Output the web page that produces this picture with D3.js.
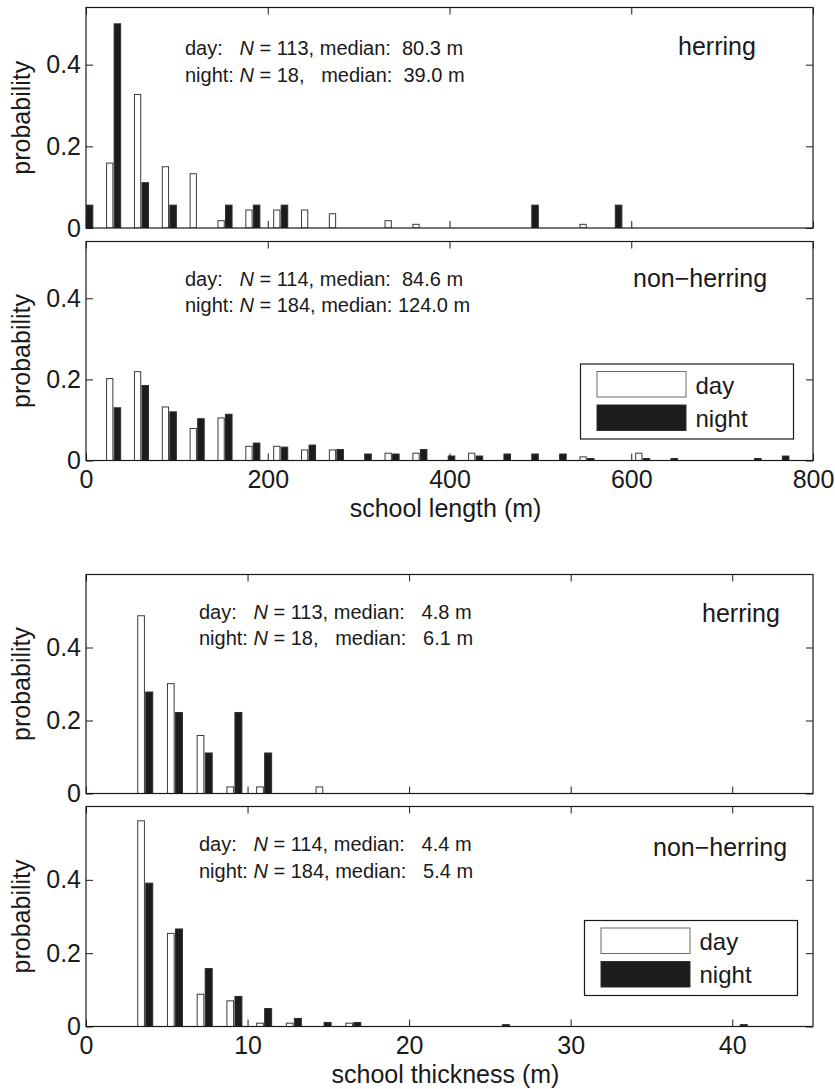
<!DOCTYPE html>
<html>
<head>
<meta charset="utf-8">
<script src="https://cdn.jsdelivr.net/npm/d3@7"></script>
<style>
  body { margin: 0; background: #fff; }
  svg text { font-family: "Liberation Sans", Arial, Helvetica, sans-serif; fill: #1a1a1a; }
  .stats { white-space: pre; }
</style>
</head>
<body>
<svg id="chart" width="835" height="1089"></svg>
<script>
// Bin centres of the histograms
const lengthBins = [0, 30.64, 61.28, 91.92, 122.56, 153.2, 183.84, 214.48, 245.12, 275.76,
  306.4, 337.04, 367.68, 398.32, 428.96, 459.6, 490.24, 520.88, 551.52, 582.16,
  612.8, 643.44, 674.08, 704.72, 735.36, 766.0];
const thicknessBins = [3.68, 5.52, 7.36, 9.2, 11.04, 12.88, 14.72, 16.56, 18.4, 20.24,
  22.08, 23.92, 25.76, 27.6, 29.44, 31.28, 33.12, 34.96, 36.8, 38.64, 40.48, 42.32, 44.16];

// Probabilities per bin, school length
const herringLengthDay = [0, 0.159, 0.327, 0.150, 0.133, 0.018, 0.044, 0.044, 0.044, 0.035,
  0, 0.018, 0.009, 0, 0, 0, 0, 0, 0.009, 0, 0, 0, 0, 0, 0, 0];
const herringLengthNight = [0.056, 0.500, 0.111, 0.056, 0, 0.056, 0.056, 0.056, 0, 0,
  0, 0, 0, 0, 0, 0, 0.056, 0, 0, 0.056, 0, 0, 0, 0, 0, 0];
const otherLengthDay = [0, 0.202, 0.219, 0.132, 0.079, 0.105, 0.035, 0.035, 0.026, 0.026,
  0, 0.018, 0.018, 0, 0.018, 0, 0, 0, 0.009, 0, 0.018, 0, 0, 0, 0, 0];
const otherLengthNight = [0, 0.130, 0.185, 0.120, 0.103, 0.114, 0.043, 0.033, 0.038, 0.027,
  0.016, 0.016, 0.027, 0.011, 0.011, 0.016, 0.016, 0.016, 0.005, 0, 0.005, 0.005, 0, 0, 0.005, 0.011];

// Probabilities per bin, school thickness
const herringThickDay = [0.487, 0.301, 0.159, 0.018, 0.018, 0, 0.018, 0, 0, 0,
  0, 0, 0, 0, 0, 0, 0, 0, 0, 0, 0, 0, 0];
const herringThickNight = [0.278, 0.222, 0.111, 0.222, 0.111, 0, 0, 0, 0, 0,
  0, 0, 0, 0, 0, 0, 0, 0, 0, 0, 0, 0, 0];
const otherThickDay = [0.561, 0.254, 0.088, 0.070, 0.009, 0.009, 0, 0.009, 0, 0,
  0, 0, 0, 0, 0, 0, 0, 0, 0, 0, 0, 0, 0];
const otherThickNight = [0.391, 0.266, 0.158, 0.082, 0.049, 0.022, 0.011, 0.011, 0, 0,
  0, 0, 0.005, 0, 0, 0, 0, 0, 0, 0, 0.005, 0, 0];

// Sample sizes [day, night] and medians [day, night]
const herringCounts = [113, 18];
const otherCounts = [114, 184];
const herringLengthMedian = [80.3, 39.0];
const otherLengthMedian = [84.6, 124.0];
const herringThickMedian = [4.8, 6.1];
const otherThickMedian = [4.4, 5.4];

// Tick values
const lengthTicks = [0, 200, 400, 600, 800];
const thicknessTicks = [0, 10, 20, 30, 40];
const probTicks = [0, 0.2, 0.4];
const seriesNames = ["day", "night"];

const svg = d3.select("#chart");
const left = 86, right = 813;

const panels = [
  { bins: lengthBins, day: herringLengthDay, night: herringLengthNight, xMax: 800, yMax: 0.54,
    xTicks: lengthTicks, top: 7.5, bottom: 228, xLabels: false, name: "herring", nameX: 678, nameY: 55,
    counts: herringCounts, medians: herringLengthMedian, statX: 185, statY: 55 },
  { bins: lengthBins, day: otherLengthDay, night: otherLengthNight, xMax: 800, yMax: 0.54,
    xTicks: lengthTicks, top: 241.5, bottom: 460.5, xLabels: true, xTitle: "school length (m)",
    name: "non\u2212herring", nameX: 633, nameY: 286.5,
    counts: otherCounts, medians: otherLengthMedian, statX: 185, statY: 285.5,
    legend: { x: 580.5, y: 364, w: 213, h: 75 } },
  { bins: thicknessBins, day: herringThickDay, night: herringThickNight, xMax: 45, yMax: 0.6,
    xTicks: thicknessTicks, top: 574.5, bottom: 793.5, xLabels: false, name: "herring", nameX: 702, nameY: 621.5,
    counts: herringCounts, medians: herringThickMedian, statX: 199, statY: 618.5 },
  { bins: thicknessBins, day: otherThickDay, night: otherThickNight, xMax: 45, yMax: 0.6,
    xTicks: thicknessTicks, top: 806.5, bottom: 1026.5, xLabels: true, xTitle: "school thickness (m)",
    name: "non\u2212herring", nameX: 653, nameY: 855.5,
    counts: otherCounts, medians: otherThickMedian, statX: 199, statY: 851,
    legend: { x: 584.5, y: 920.5, w: 213, h: 75 } }
];

const fmtTick = v => v === 0 ? "0" : d3.format(".1f")(v);

panels.forEach((p, i) => {
  const x = d3.scaleLinear().domain([0, p.xMax]).range([left, right]);
  const y = d3.scaleLinear().domain([0, p.yMax]).range([p.bottom, p.top]);
  const g = svg.append("g");

  const clipId = "clip" + i;
  svg.append("clipPath").attr("id", clipId)
    .append("rect").attr("x", left).attr("y", p.top).attr("width", right - left).attr("height", p.bottom - p.top);

  // grouped bars: day left of the bin centre, night right of it
  const step = p.bins[1] - p.bins[0];
  const bars = g.append("g").attr("clip-path", `url(#${clipId})`);
  const rows = p.bins.map((c, k) => ({ c, day: p.day[k], night: p.night[k] }));
  bars.selectAll("rect.day").data(rows.filter(d => d.day > 0)).join("rect")
    .attr("class", "day")
    .attr("x", d => x(d.c - 0.26 * step))
    .attr("width", d => x(d.c - 0.035 * step) - x(d.c - 0.26 * step))
    .attr("y", d => y(d.day))
    .attr("height", d => y(0) - y(d.day))
    .attr("fill", "#fff").attr("stroke", "#3a3a3a").attr("stroke-width", 1);
  bars.selectAll("rect.night").data(rows.filter(d => d.night > 0)).join("rect")
    .attr("class", "night")
    .attr("x", d => x(d.c + 0.01 * step))
    .attr("width", d => x(d.c + 0.245 * step) - x(d.c + 0.01 * step))
    .attr("y", d => y(d.night))
    .attr("height", d => y(0) - y(d.night))
    .attr("fill", "#1c1c1c").attr("stroke", "#2e2e2e").attr("stroke-width", 1);

  // axes with inward ticks on all four sides
  const tickLen = 7;
  const styleAxis = sel => {
    sel.select(".domain").remove();
    sel.selectAll(".tick line").attr("stroke", "#1a1a1a");
    sel.selectAll(".tick text").style("font-size", "25px").attr("fill", "#1a1a1a");
  };
  g.append("g").attr("transform", `translate(0,${p.bottom})`)
    .call(d3.axisBottom(x).tickValues(p.xTicks).tickSizeInner(-tickLen).tickSizeOuter(0)
      .tickPadding(10).tickFormat(p.xLabels ? d3.format("d") : () => ""))
    .call(styleAxis);
  g.append("g").attr("transform", `translate(0,${p.top})`)
    .call(d3.axisTop(x).tickValues(p.xTicks).tickSizeInner(-tickLen).tickSizeOuter(0).tickFormat(() => ""))
    .call(styleAxis);
  g.append("g").attr("transform", `translate(${left},0)`)
    .call(d3.axisLeft(y).tickValues(probTicks).tickSizeInner(-tickLen).tickSizeOuter(0)
      .tickPadding(5).tickFormat(fmtTick))
    .call(styleAxis);
  g.append("g").attr("transform", `translate(${right},0)`)
    .call(d3.axisRight(y).tickValues(probTicks).tickSizeInner(-tickLen).tickSizeOuter(0).tickFormat(() => ""))
    .call(styleAxis);

  // box
  g.append("rect").attr("x", left).attr("y", p.top)
    .attr("width", right - left).attr("height", p.bottom - p.top)
    .attr("fill", "none").attr("stroke", "#1a1a1a").attr("stroke-width", 1.2);

  // y title
  g.append("text")
    .attr("transform", `translate(30,${(p.top + p.bottom) / 2}) rotate(-90)`)
    .attr("text-anchor", "middle").style("font-size", "25px")
    .text("probability");

  // x title
  if (p.xTitle) {
    g.append("text").attr("x", (left + right) / 2 - 4).attr("y", p.bottom + 56)
      .attr("text-anchor", "middle").style("font-size", "25px")
      .text(p.xTitle);
  }

  // group name
  g.append("text").attr("x", p.nameX).attr("y", p.nameY)
    .style("font-size", "25px").text(p.name);

  // sample size / median annotation
  const prefixes = ["day:   ", "night: "];
  [0, 1].forEach(j => {
    const nStr = p.counts[j] + ",";
    const pad = " ".repeat(Math.max(1, 5 - nStr.length) + (nStr.length < 4 ? 1 : 0));
    const med = p.medians[j].toFixed(1).padStart(5, " ");
    const t = g.append("text").attr("class", "stats")
      .attr("x", p.statX).attr("y", p.statY + j * 26.5)
      .attr("xml:space", "preserve")
      .style("font-size", "20px");
    t.append("tspan").text(prefixes[j]);
    t.append("tspan").style("font-style", "italic").text("N");
    t.append("tspan").text(" = " + nStr + pad + "median: " + med + " m");
  });

  // legend
  if (p.legend) {
    const L = p.legend;
    const lg = g.append("g").attr("transform", `translate(${L.x},${L.y})`);
    lg.append("rect").attr("width", L.w).attr("height", L.h)
      .attr("fill", "#fff").attr("stroke", "#1a1a1a").attr("stroke-width", 1.2);
    seriesNames.forEach((s, j) => {
      lg.append("rect").attr("x", 16.5).attr("y", 7.5 + j * 33.5)
        .attr("width", 89).attr("height", 25.5)
        .attr("fill", j === 0 ? "#fff" : "#1c1c1c")
        .attr("stroke", j === 0 ? "#6a6a6a" : "#2e2e2e").attr("stroke-width", 1);
      lg.append("text").attr("x", 115).attr("y", 29.5 + j * 33)
        .style("font-size", "24px").text(s);
    });
  }
});
</script>
</body>
</html>
